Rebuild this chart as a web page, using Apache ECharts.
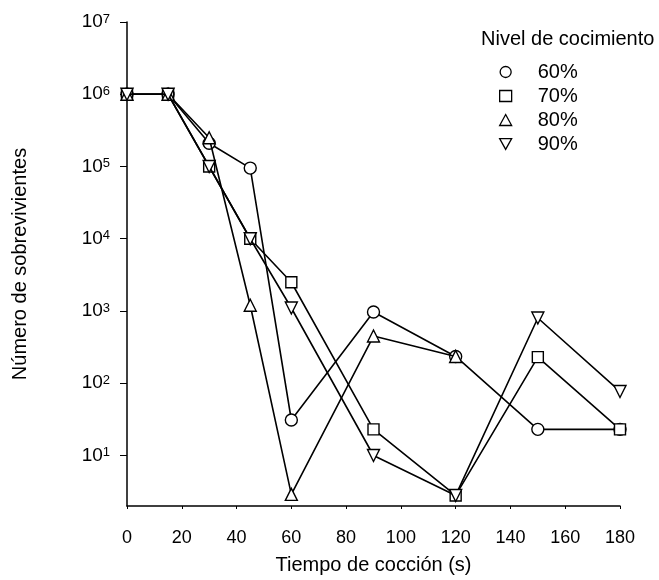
<!DOCTYPE html>
<html>
<head>
<meta charset="utf-8">
<script src="https://cdn.jsdelivr.net/npm/echarts@6/dist/echarts.min.js"></script>
<style>
html,body{margin:0;padding:0;background:#fff;}
#chart{width:659px;height:580px;}
</style>
</head>
<body>
<div id="chart"></div>
<script>
// Data
const times = [0, 15, 30, 45, 60, 90, 120, 150, 180];
const nivel60 = [1e6, 1e6, 2.1e5, 9.5e4, 31, 970, 235, 23, 23];
const nivel70 = [1e6, 1e6, 1e5, 1e4, 2.5e3, 23, 2.8, 230, 23];
const nivel80 = [1e6, 1e6, 2.5e5, 1.2e3, 2.9, 450, 235, null, null];
const nivel90 = [1e6, 1e6, 1e5, 1e4, 1.1e3, 10, 2.8, 800, 77];
const seriesNames = ['60%', '70%', '80%', '90%'];
const xTicks = [0, 20, 40, 60, 80, 100, 120, 140, 160, 180];
const legendTitle = 'Nivel de cocimiento';
const xTitle = 'Tiempo de cocción (s)';
const yTitle = 'Número de sobrevivientes';

const FONT = '"Liberation Sans", Arial, Helvetica, sans-serif';
const downTri = 'path://M0,0 L10,0 L5,9 Z';

function pairs(vals) {
  const out = [];
  times.forEach((t, i) => { if (vals[i] != null) out.push([t, vals[i]]); });
  return out;
}

const symbols = ['circle', 'rect', 'triangle', downTri];
const sizes = [12, 11, 12, 12];
const allVals = [nivel60, nivel70, nivel80, nivel90];

const series = seriesNames.map((name, i) => ({
  name: name,
  type: 'line',
  data: pairs(allVals[i]),
  symbol: symbols[i],
  symbolSize: sizes[i],
  showSymbol: true,
  lineStyle: { color: '#000', width: 1.6 },
  itemStyle: { color: '#fff', borderColor: '#000', borderWidth: 1.4 },
  emphasis: { disabled: true },
  animation: false,
  z: 3 + i
}));

const chart = echarts.init(document.getElementById('chart'), null, { renderer: 'canvas' });
chart.setOption({
  animation: false,
  backgroundColor: '#fff',
  textStyle: { fontFamily: FONT, color: '#000' },
  title: {
    text: legendTitle,
    left: 481,
    top: 29,
    padding: 0,
    textStyle: { fontFamily: FONT, fontSize: 20, fontWeight: 'normal', color: '#000' }
  },
  legend: {
    orient: 'vertical',
    left: 499,
    top: 61,
    padding: 0,
    itemWidth: 12,
    itemHeight: 11,
    itemGap: 2,
    selectedMode: false,
    data: seriesNames.map((n, i) => ({ name: n, icon: symbols[i] })),
    itemStyle: { color: '#fff', borderColor: '#000', borderWidth: 1.3 },
    textStyle: { fontFamily: FONT, fontSize: 20, lineHeight: 22, color: '#000', padding: [0, 0, 0, 21] }
  },
  grid: { left: 127, right: 39, top: 22, bottom: 72, containLabel: false },
  xAxis: {
    type: 'value',
    min: xTicks[0],
    max: xTicks[xTicks.length - 1],
    interval: xTicks[1] - xTicks[0],
    name: xTitle,
    nameLocation: 'middle',
    nameGap: 49,
    nameTextStyle: { fontFamily: FONT, fontSize: 20, color: '#000' },
    axisLine: { lineStyle: { color: '#000', width: 1.5 } },
    axisTick: { show: true, length: 3, lineStyle: { color: '#000' } },
    axisLabel: { fontFamily: FONT, fontSize: 18, color: '#000', margin: 23 },
    splitLine: { show: false }
  },
  yAxis: {
    type: 'log',
    logBase: 10,
    min: 2,
    max: 1e7,
    name: yTitle,
    nameLocation: 'middle',
    nameGap: 97,
    nameTextStyle: { fontFamily: FONT, fontSize: 20, color: '#000' },
    axisLine: { show: true, lineStyle: { color: '#000', width: 1.5 } },
    axisTick: { show: true, length: 7, lineStyle: { color: '#000' } },
    axisLabel: {
      fontFamily: FONT, fontSize: 19, color: '#000', margin: 17,
      showMinLabel: false,
      formatter: function (v) {
        const e = Math.log10(v);
        const r = Math.round(e);
        if (Math.abs(e - r) > 1e-6) return '';
        return '10{sup|' + r + '}';
      },
      rich: {
        sup: { fontFamily: FONT, fontSize: 13, color: '#000', verticalAlign: 'top', lineHeight: 13 }
      }
    },
    splitLine: { show: false }
  },
  series: series
});
</script>
</body>
</html>
